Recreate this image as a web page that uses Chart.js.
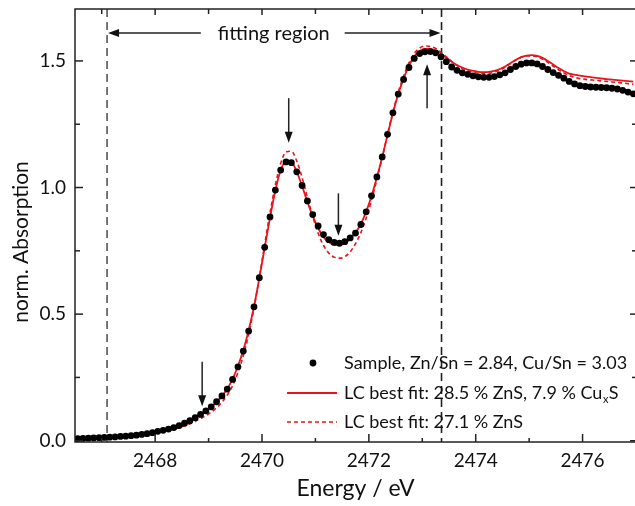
<!DOCTYPE html>
<html>
<head>
<meta charset="utf-8">
<script src="https://cdn.jsdelivr.net/npm/chart.js@4.4.1/dist/chart.umd.min.js"></script>
<style>
html,body{margin:0;padding:0;overflow:hidden;background:#fff}
</style>
</head>
<body>
<canvas id="myChart" width="640" height="506" style="width:640px;height:506px"></canvas>
<script>
// energies in eV, 0.1 eV steps
const energy=[2466.55,2466.65,2466.75,2466.85,2466.95,2467.05,2467.15,2467.25,2467.35,2467.45,
2467.55,2467.65,2467.75,2467.85,2467.95,2468.05,2468.15,2468.25,2468.35,2468.45,
2468.55,2468.65,2468.75,2468.85,2468.95,2469.05,2469.15,2469.25,2469.35,2469.45,
2469.55,2469.65,2469.75,2469.85,2469.95,2470.05,2470.15,2470.25,2470.35,2470.45,
2470.55,2470.65,2470.75,2470.85,2470.95,2471.05,2471.15,2471.25,2471.35,2471.45,
2471.55,2471.65,2471.75,2471.85,2471.95,2472.05,2472.15,2472.25,2472.35,2472.45,
2472.55,2472.65,2472.75,2472.85,2472.95,2473.05,2473.15,2473.25,2473.35,2473.45,
2473.55,2473.65,2473.75,2473.85,2473.95,2474.05,2474.15,2474.25,2474.35,2474.45,
2474.55,2474.65,2474.75,2474.85,2474.95,2475.05,2475.15,2475.25,2475.35,2475.45,
2475.55,2475.65,2475.75,2475.85,2475.95,2476.05,2476.15,2476.25,2476.35,2476.45,
2476.55,2476.65,2476.75,2476.85,2476.95];

const sample=[0.008,0.009,0.010,0.011,0.012,0.013,0.014,0.015,0.017,0.018,
0.020,0.022,0.025,0.028,0.032,0.037,0.041,0.046,0.052,0.060,
0.069,0.079,0.091,0.104,0.118,0.134,0.154,0.177,0.204,0.242,
0.292,0.354,0.433,0.529,0.644,0.764,0.884,0.990,1.069,1.101,
1.098,1.062,1.008,0.947,0.893,0.848,0.814,0.794,0.783,0.780,
0.786,0.801,0.820,0.854,0.904,0.967,1.042,1.121,1.210,1.295,
1.369,1.427,1.474,1.510,1.529,1.536,1.537,1.532,1.516,1.497,
1.476,1.463,1.453,1.447,1.441,1.437,1.435,1.435,1.438,1.445,
1.453,1.466,1.478,1.487,1.492,1.492,1.488,1.478,1.466,1.454,
1.443,1.432,1.419,1.409,1.402,1.399,1.397,1.396,1.395,1.394,
1.392,1.389,1.384,1.377,1.370];

const fitZnSCuS=[0.010,0.011,0.012,0.013,0.014,0.015,0.016,0.017,0.018,0.020,
0.022,0.024,0.026,0.029,0.033,0.037,0.042,0.047,0.053,0.061,
0.070,0.080,0.091,0.104,0.118,0.134,0.153,0.176,0.205,0.244,
0.295,0.357,0.436,0.530,0.642,0.762,0.880,0.988,1.068,1.103,
1.100,1.063,1.006,0.943,0.887,0.840,0.805,0.784,0.775,0.774,
0.781,0.797,0.822,0.856,0.905,0.966,1.040,1.120,1.208,1.293,
1.368,1.430,1.480,1.518,1.539,1.547,1.547,1.541,1.529,1.513,
1.497,1.484,1.474,1.466,1.461,1.457,1.456,1.457,1.461,1.468,
1.478,1.491,1.504,1.515,1.521,1.523,1.520,1.512,1.500,1.486,
1.472,1.460,1.450,1.446,1.442,1.439,1.436,1.433,1.431,1.428,
1.426,1.424,1.422,1.420,1.418];

const fitZnS=[0.009,0.010,0.011,0.012,0.013,0.014,0.015,0.016,0.017,0.019,
0.021,0.023,0.025,0.027,0.030,0.033,0.037,0.041,0.046,0.052,
0.059,0.067,0.076,0.087,0.099,0.113,0.130,0.152,0.180,0.218,
0.270,0.336,0.420,0.523,0.645,0.775,0.900,1.010,1.095,1.140,
1.143,1.105,1.040,0.960,0.885,0.820,0.772,0.741,0.725,0.721,
0.727,0.746,0.778,0.822,0.880,0.950,1.032,1.118,1.210,1.298,
1.376,1.440,1.492,1.530,1.551,1.559,1.557,1.549,1.534,1.516,
1.498,1.482,1.470,1.461,1.455,1.451,1.450,1.451,1.456,1.464,
1.475,1.489,1.503,1.514,1.520,1.520,1.516,1.507,1.494,1.479,
1.465,1.452,1.442,1.435,1.430,1.427,1.425,1.423,1.421,1.419,
1.417,1.415,1.413,1.410,1.408];

const xMajor=[2468,2470,2472,2474,2476];
const xMinor=[2467,2469,2471,2473,2475,2477];
const yMajor=[0,0.5,1.0,1.5];
const yMinor=[0.25,0.75,1.25];

const legendText=[["Sample, Zn/Sn = 2.84, Cu/Sn = 3.03"],["LC best fit: 28.5 % ZnS, 7.9 % Cu","x","S"],["LC best fit: 27.1 % ZnS"]];
const regionEdges=[2467.1,2473.36];
const regionLabel="fitting region";
const regionLabelPos=[2470.22,1.61];
// [energy, tail, tip]
const arrows=[[2470.5,1.353,1.177],[2471.43,0.977,0.810],[2473.09,1.313,1.487],[2468.88,0.312,0.136]];

const FONT="Lato, 'DejaVu Sans', sans-serif";
const RED="#e8141b";

function pts(ys){ return energy.map((e,i)=>({x:e,y:ys[i]})) }

function arrow(ctx,x0,y0,x1,y1){
    const a=Math.atan2(y1-y0,x1-x0), L=11, W=4;
    ctx.beginPath();ctx.moveTo(x0,y0);ctx.lineTo(x1-Math.cos(a)*L*0.8,y1-Math.sin(a)*L*0.8);ctx.stroke();
    ctx.beginPath();
    ctx.moveTo(x1,y1);
    ctx.lineTo(x1-Math.cos(a)*L-Math.sin(a)*W,y1-Math.sin(a)*L+Math.cos(a)*W);
    ctx.lineTo(x1-Math.cos(a)*L+Math.sin(a)*W,y1-Math.sin(a)*L-Math.cos(a)*W);
    ctx.closePath();ctx.fill();
}

const decor={
    id:'decor',
    beforeDatasetsDraw(chart){
        const {ctx,chartArea:a,scales:{x}}=chart;
        ctx.save();
        ctx.lineWidth=1.6;
        ctx.setLineDash([8,5]);
        ctx.strokeStyle="#555";
        let p=x.getPixelForValue(regionEdges[0]);
        ctx.beginPath();ctx.moveTo(p,a.top);ctx.lineTo(p,a.bottom);ctx.stroke();
        ctx.strokeStyle="#222";
        p=x.getPixelForValue(regionEdges[1]);
        ctx.beginPath();ctx.moveTo(p,a.top);ctx.lineTo(p,a.bottom);ctx.stroke();
        ctx.restore();
    },
    afterDatasetsDraw(chart){
        const {ctx,chartArea:a,scales:{x,y}}=chart;
        ctx.save();
        ctx.strokeStyle="#222";ctx.fillStyle="#111";ctx.lineWidth=1.5;
        ctx.strokeRect(a.left,a.top,a.right-a.left,a.bottom-a.top);
        const tk=(px,py,dx,dy)=>{ctx.beginPath();ctx.moveTo(px,py);ctx.lineTo(px+dx,py+dy);ctx.stroke();};
        xMajor.forEach(v=>{const p=x.getPixelForValue(v);tk(p,a.bottom,0,-8);tk(p,a.top,0,6);});
        xMinor.forEach(v=>{const p=x.getPixelForValue(v);tk(p,a.bottom,0,-4);tk(p,a.top,0,5);});
        yMajor.forEach(v=>{const p=y.getPixelForValue(v);tk(a.left,p,8,0);tk(a.right,p,-6,0);});
        yMinor.forEach(v=>{const p=y.getPixelForValue(v);tk(a.left,p,5,0);tk(a.right,p,-4,0);});

        // arrows pointing at features
        ctx.lineWidth=1.5;
        arrows.forEach(r=>{
            const px=x.getPixelForValue(r[0]);
            arrow(ctx,px,y.getPixelForValue(r[1]),px,y.getPixelForValue(r[2]));
        });

        // fitting region label
        ctx.font="20px "+FONT;
        ctx.textAlign="center";ctx.textBaseline="middle";
        const cx=x.getPixelForValue(regionLabelPos[0]), cy=y.getPixelForValue(regionLabelPos[1]);
        ctx.fillText(regionLabel,cx,cy);
        const w=ctx.measureText(regionLabel).width;
        arrow(ctx,cx-w/2-17,cy,x.getPixelForValue(regionEdges[0])+1,cy);
        arrow(ctx,cx+w/2+15,cy,x.getPixelForValue(regionEdges[1])-1,cy);

        // legend
        const ds=chart.data.datasets;
        const rows=[363,393,422];
        ctx.textAlign="left";ctx.textBaseline="middle";
        rows.forEach((ry,i)=>{
            const d=ds[i];
            if(i==0){
                ctx.fillStyle=d.pointBackgroundColor;
                ctx.beginPath();ctx.arc(313,ry,3.4,0,Math.PI*2);ctx.fill();
            }else{
                ctx.strokeStyle=d.borderColor;ctx.lineWidth=d.borderWidth;
                ctx.setLineDash(d.borderDash||[]);
                ctx.beginPath();ctx.moveTo(287,ry);ctx.lineTo(337,ry);ctx.stroke();
                ctx.setLineDash([]);
            }
            ctx.fillStyle="#111";
            let tx=344;
            const parts=legendText[i];
            ctx.font="18px "+FONT;
            ctx.fillText(parts[0],tx,ry);
            if(parts.length>1){
                tx+=ctx.measureText(parts[0]).width;
                ctx.font="11px "+FONT;
                ctx.fillText(parts[1],tx+0.5,ry+6);
                tx+=ctx.measureText(parts[1]).width+1;
                ctx.font="18px "+FONT;
                ctx.fillText(parts[2],tx,ry);
            }
        });

        // y axis title
        ctx.font="21px "+FONT;
        ctx.textAlign="center";ctx.textBaseline="middle";
        ctx.translate(21,242);ctx.rotate(-Math.PI/2);
        ctx.fillText("norm. Absorption",0,0);
        ctx.restore();
    }
};

new Chart(document.getElementById("myChart"),{
    type:'line',
    data:{
        datasets:[
            {label:legendText[0][0],data:pts(sample),showLine:false,pointRadius:3.4,
             pointBackgroundColor:"#000",pointBorderColor:"#000",pointBorderWidth:0,order:0},
            {label:legendText[1].join(""),data:pts(fitZnSCuS),borderColor:RED,borderWidth:1.8,
             pointRadius:0,cubicInterpolationMode:'monotone',order:1},
            {label:legendText[2][0],data:pts(fitZnS),borderColor:RED,borderWidth:1.6,borderDash:[4,3],
             pointRadius:0,cubicInterpolationMode:'monotone',order:2}
        ]
    },
    options:{
        responsive:false,
        animation:false,
        events:[],
        layout:{padding:{left:0,top:9,right:1,bottom:0}},
        plugins:{legend:{display:false},tooltip:{enabled:false}},
        scales:{
            x:{
                type:'linear',min:2466.5,max:2477,
                grid:{display:false,drawTicks:false},
                border:{display:false},
                afterBuildTicks:s=>{s.ticks=xMajor.map(v=>({value:v}));},
                afterFit:s=>{s.height=64;s.paddingLeft=0;s.paddingRight=0;},
                ticks:{padding:7,color:"#111",font:{family:FONT,size:19},maxRotation:0,
                       callback:v=>String(v)},
                title:{display:true,text:"Energy / eV",color:"#111",font:{family:FONT,size:23},
                       padding:{top:0,bottom:4}}
            },
            y:{
                min:-0.005,max:1.705,
                grid:{display:false,drawTicks:false},
                border:{display:false},
                afterBuildTicks:s=>{s.ticks=yMajor.map(v=>({value:v}));},
                afterFit:s=>{s.width=75;s.paddingTop=0;s.paddingBottom=0;},
                ticks:{padding:9,color:"#111",font:{family:FONT,size:19},
                       callback:v=>v.toFixed(1)}
            }
        }
    },
    plugins:[decor]
});
</script>
</body>
</html>
